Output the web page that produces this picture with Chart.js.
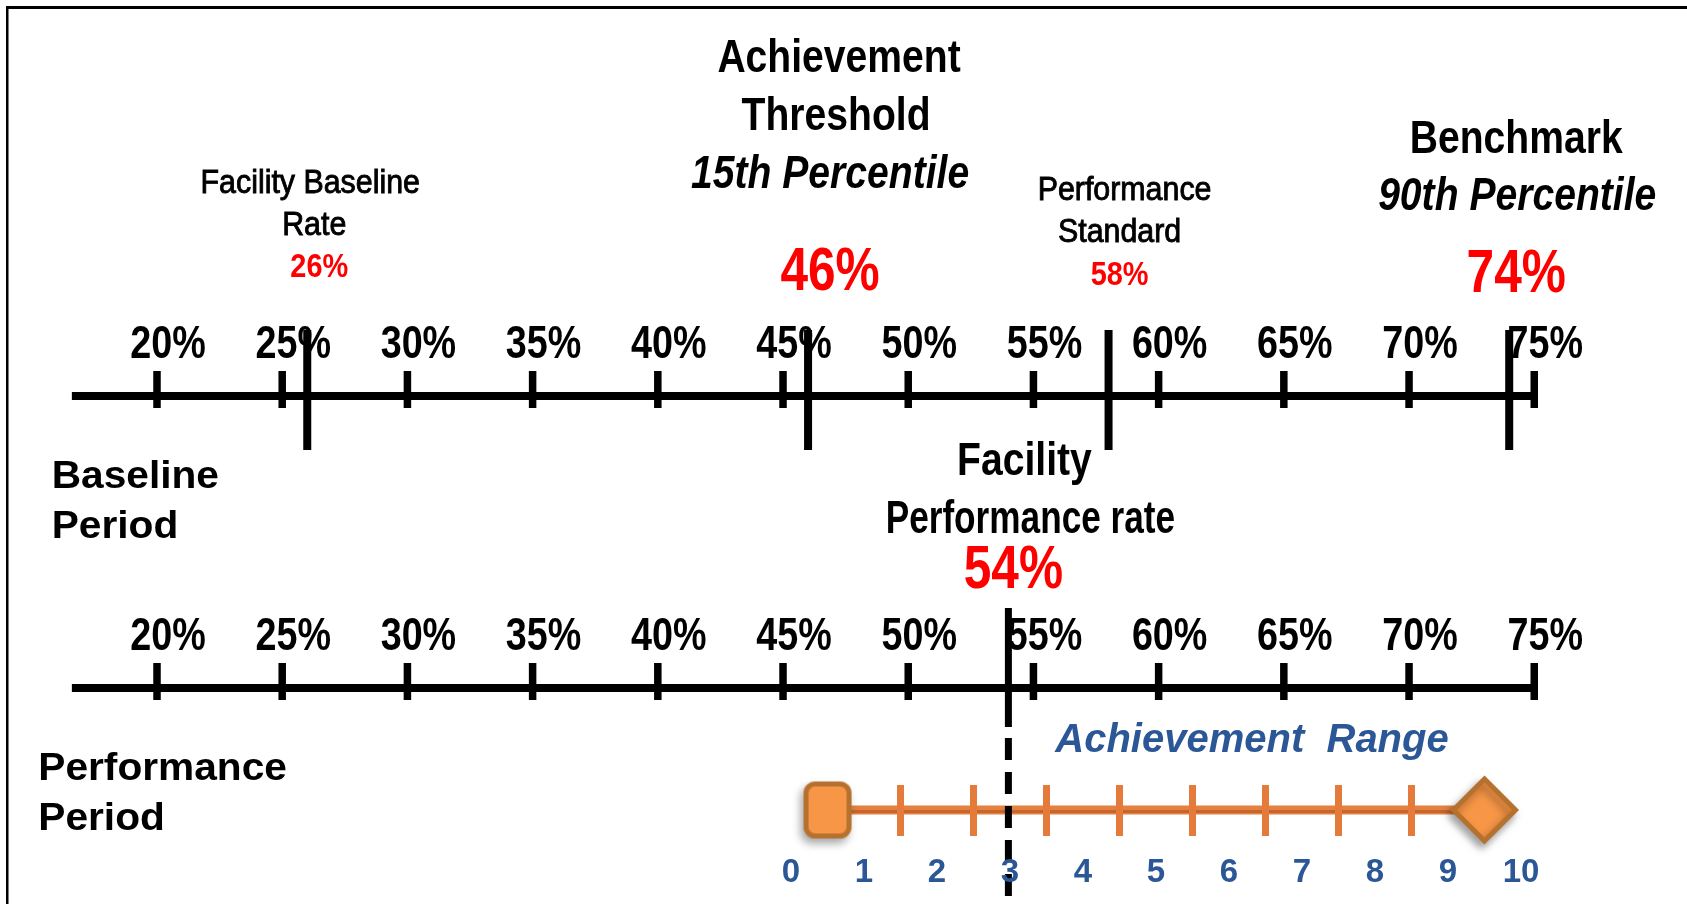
<!DOCTYPE html>
<html>
<head>
<meta charset="utf-8">
<title>Achievement Range</title>
<script src="https://cdn.jsdelivr.net/npm/chart.js@4.4.1/dist/chart.umd.min.js"></script>
<style>
  html, body { margin: 0; padding: 0; background: #fff; overflow: hidden; }
  #wrap { width: 1687px; height: 904px; }
</style>
</head>
<body>
<div id="wrap"><canvas id="scale" width="1687" height="904"></canvas></div>
<script>
// tick marks on both number lines
const pctTicks = [20, 25, 30, 35, 40, 45, 50, 55, 60, 65, 70, 75];
const pctTickLabels = ['20%', '25%', '30%', '35%', '40%', '45%', '50%', '55%', '60%', '65%', '70%', '75%'];

// baseline period reference points
const baselineValues = [26, 46, 58, 74];
const baselineTitles = [
    ['Facility Baseline', 'Rate'],
    ['Achievement', 'Threshold', '15th Percentile'],
    ['Performance', 'Standard'],
    ['Benchmark', '90th Percentile']
];

// performance period
const facilityRate = 54;
const facilityTitle = ['Facility', 'Performance rate'];

// achievement range (0 - 10 points)
const rangePoints = [0, 1, 2, 3, 4, 5, 6, 7, 8, 9, 10];
const rangeTickValues = [1.5, 2.5, 3.5, 4.5, 5.5, 6.5, 7.5, 8.5];
const rangeEnds = [0.5, 9.5];

// layout (rows on the vertical scale, which runs top to bottom)
const Y_MAX = 904;
const ROW_BASE = 396, ROW_PERF = 688, ROW_RANGE = 810;
const AXIS_START = 16.6;

const RED = '#FF0000', BLUE = '#2B5797';
const ORANGE = '#E5803F', ORANGE_DARK = '#C4662E', ORANGE_FILL = '#F79646', ORANGE_EDGE = '#B7712F';

function segments(values, y0, y1) {
    const out = [];
    values.forEach(v => { out.push({ x: v, y: y0 }, { x: v, y: y1 }, { x: v, y: null }); });
    return out;
}

function roundedBox(w, h, r, lw) {
    const c = document.createElement('canvas');
    c.width = w + lw + 2;
    c.height = h + lw + 2;
    const g = c.getContext('2d');
    const x0 = lw / 2 + 1, y0 = lw / 2 + 1;
    g.beginPath();
    g.moveTo(x0 + r, y0);
    g.arcTo(x0 + w, y0, x0 + w, y0 + h, r);
    g.arcTo(x0 + w, y0 + h, x0, y0 + h, r);
    g.arcTo(x0, y0 + h, x0, y0, r);
    g.arcTo(x0, y0, x0 + w, y0, r);
    g.closePath();
    g.fillStyle = ORANGE_FILL;
    g.fill();
    g.lineWidth = lw;
    g.strokeStyle = ORANGE_EDGE;
    g.stroke();
    return c;
}

function text(ctx, str, x, y, o) {
    ctx.save();
    ctx.font = (o.italic ? 'italic ' : '') + (o.bold ? 'bold ' : '') + o.size + 'px "Liberation Sans", Arial, sans-serif';
    ctx.fillStyle = o.color || '#000';
    ctx.textAlign = o.align || 'center';
    ctx.textBaseline = 'alphabetic';
    ctx.translate(x, y);
    ctx.scale(o.sx || 1, 1);
    ctx.fillText(str, 0, 0);
    if (o.heavy) {
        // a little extra weight for the medium-weight labels
        ctx.strokeStyle = o.color || '#000';
        ctx.lineWidth = o.heavy;
        ctx.strokeText(str, 0, 0);
    }
    ctx.restore();
}

// text styles
const fTick = { size: 46, bold: true, sx: 0.82 };
const fSmall = { size: 33, sx: 0.92, heavy: 0.9 };
const fBig = { size: 46, bold: true, sx: 0.85 };
const fBigIt = { size: 46, bold: true, italic: true, sx: 0.85 };
const fRedSmall = { size: 34, bold: true, sx: 0.85, color: RED };
const fRedBig = { size: 62, bold: true, sx: 0.8, color: RED };
const fLeft = { size: 38, bold: true, sx: 1.07, align: 'left' };

// label placement for each baseline marker: x shift from marker, baselines, fonts
const markerLayout = [
    { dx: [3, 7], base: [193, 235], fonts: [fSmall, fSmall], vdx: 12, vbase: 277, vfont: fRedSmall },
    { dx: [31, 28, 22], base: [72, 130, 188], fonts: [fBig, fBig, fBigIt], vdx: 22, vbase: 290, vfont: fRedBig },
    { dx: [16, 11], base: [200, 242], fonts: [fSmall, fSmall], vdx: 11, vbase: 285, vfont: fRedSmall },
    { dx: [7, 8], base: [153, 210], fonts: [fBig, fBigIt], vdx: 7, vbase: 292, vfont: fRedBig }
];

const framePlugin = {
    id: 'frame',
    beforeDraw(chart) {
        const c = chart.ctx;
        c.save();
        c.fillStyle = '#000';
        c.fillRect(6, 6, chart.width - 6, 3);
        c.fillRect(6, 6, 2.5, chart.height - 6);
        c.restore();
    }
};

const shadowPlugin = {
    id: 'shadow',
    beforeDatasetDraw(chart, args) {
        if (!chart.data.datasets[args.index].shadow) return;
        const c = chart.ctx;
        c.save();
        c.shadowColor = 'rgba(0,0,0,0.35)';
        c.shadowBlur = 8;
        c.shadowOffsetX = -3;
        c.shadowOffsetY = 5;
    },
    afterDatasetDraw(chart, args) {
        if (chart.data.datasets[args.index].shadow) chart.ctx.restore();
    }
};

const labelPlugin = {
    id: 'labels',
    afterDatasetsDraw(chart) {
        const ctx = chart.ctx;
        const x = chart.scales.x, x2 = chart.scales.x2, y = chart.scales.y;

        // tick labels on both number lines
        [ROW_BASE, ROW_PERF].forEach(row => {
            const py = y.getPixelForValue(row) - 38.5;
            pctTicks.forEach((v, i) => text(ctx, pctTickLabels[i], x.getPixelForValue(v) + 11, py, fTick));
        });

        // baseline period markers
        baselineValues.forEach((v, i) => {
            const px = x.getPixelForValue(v);
            const lay = markerLayout[i];
            baselineTitles[i].forEach((line, j) => {
                text(ctx, line, px + lay.dx[j], y.getPixelForValue(lay.base[j]), lay.fonts[j]);
            });
            text(ctx, v + '%', px + lay.vdx, y.getPixelForValue(lay.vbase), lay.vfont);
        });

        // facility performance rate
        const fx = x.getPixelForValue(facilityRate);
        text(ctx, facilityTitle[0], fx + 16, y.getPixelForValue(ROW_PERF - 213), fBig);
        text(ctx, facilityTitle[1], fx + 22, y.getPixelForValue(ROW_PERF - 155), { size: 46, bold: true, sx: 0.765 });
        text(ctx, facilityRate + '%', fx + 5, y.getPixelForValue(ROW_PERF - 100), fRedBig);

        // row names
        text(ctx, 'Baseline', 51.7, y.getPixelForValue(ROW_BASE + 92), fLeft);
        text(ctx, 'Period', 51.7, y.getPixelForValue(ROW_BASE + 142), fLeft);
        text(ctx, 'Performance', 38.3, y.getPixelForValue(ROW_PERF + 92), fLeft);
        text(ctx, 'Period', 38.3, y.getPixelForValue(ROW_PERF + 142), fLeft);

        // achievement range
        text(ctx, 'Achievement  Range', x2.getPixelForValue(5) + 96, y.getPixelForValue(ROW_RANGE - 58),
            { size: 40, bold: true, italic: true, color: BLUE });
        rangePoints.forEach(v => {
            text(ctx, String(v), x2.getPixelForValue(v), y.getPixelForValue(ROW_RANGE + 72),
                { size: 33, bold: true, color: BLUE });
        });
    }
};

const lastTick = pctTicks[pctTicks.length - 1];

new Chart(document.getElementById('scale'), {
    type: 'line',
    data: {
        datasets: [
            {
                data: rangeEnds.map(v => ({ x: v, y: ROW_RANGE })),
                xAxisID: 'x2',
                showLine: false,
                pointStyle: [roundedBox(43, 52, 9, 5), 'rectRot'],
                pointRadius: [28, 31],
                pointBackgroundColor: ORANGE_FILL,
                pointBorderColor: ORANGE_EDGE,
                pointBorderWidth: 5,
                shadow: true,
                order: 1
            },
            {
                data: [{ x: facilityRate, y: ROW_PERF - 80 }, { x: facilityRate, y: ROW_PERF + 39 }],
                borderColor: '#000', borderWidth: 7, order: 2
            },
            {
                data: [{ x: facilityRate, y: ROW_PERF + 50 }, { x: facilityRate, y: Y_MAX }],
                borderColor: '#000', borderWidth: 7, borderDash: [22, 12], order: 2
            },
            {
                data: segments(rangeTickValues, ROW_RANGE - 25, ROW_RANGE + 26),
                xAxisID: 'x2', borderColor: '#E57B3B', borderWidth: 7, order: 3
            },
            {
                data: [{ x: rangeEnds[0], y: ROW_RANGE + 1.5 }, { x: rangeEnds[1], y: ROW_RANGE + 1.5 }],
                xAxisID: 'x2', borderColor: ORANGE_DARK, borderWidth: 3, order: 4
            },
            {
                data: [{ x: rangeEnds[0], y: ROW_RANGE }, { x: rangeEnds[1], y: ROW_RANGE }],
                xAxisID: 'x2', borderColor: ORANGE, borderWidth: 9, order: 4.5
            },
            {
                data: segments(baselineValues, ROW_BASE - 66, ROW_BASE + 54),
                borderColor: '#000', borderWidth: 8, order: 5
            },
            {
                data: segments(pctTicks, ROW_BASE - 25, ROW_BASE + 12).concat(segments(pctTicks, ROW_PERF - 25, ROW_PERF + 12)),
                borderColor: '#000', borderWidth: 7.5, order: 6
            },
            {
                data: [{ x: AXIS_START, y: ROW_BASE }, { x: lastTick, y: ROW_BASE }],
                borderColor: '#000', borderWidth: 8, order: 7
            },
            {
                data: [{ x: AXIS_START, y: ROW_PERF }, { x: lastTick, y: ROW_PERF }],
                borderColor: '#000', borderWidth: 8, order: 7
            }
        ]
    },
    options: {
        responsive: false,
        animation: false,
        devicePixelRatio: 1,
        events: [],
        layout: { padding: 0, autoPadding: false },
        elements: {
            point: { radius: 0 },
            line: { tension: 0, fill: false, borderCapStyle: 'butt' }
        },
        spanGaps: false,
        plugins: { legend: { display: false }, tooltip: { enabled: false } },
        scales: {
            x: { type: 'linear', display: false, min: 13.73, max: 81.1 },
            x2: { type: 'linear', display: false, position: 'bottom', min: -10.836, max: 12.274 },
            y: { type: 'linear', display: false, reverse: true, min: 0, max: Y_MAX }
        }
    },
    plugins: [framePlugin, shadowPlugin, labelPlugin]
});
</script>
</body>
</html>
